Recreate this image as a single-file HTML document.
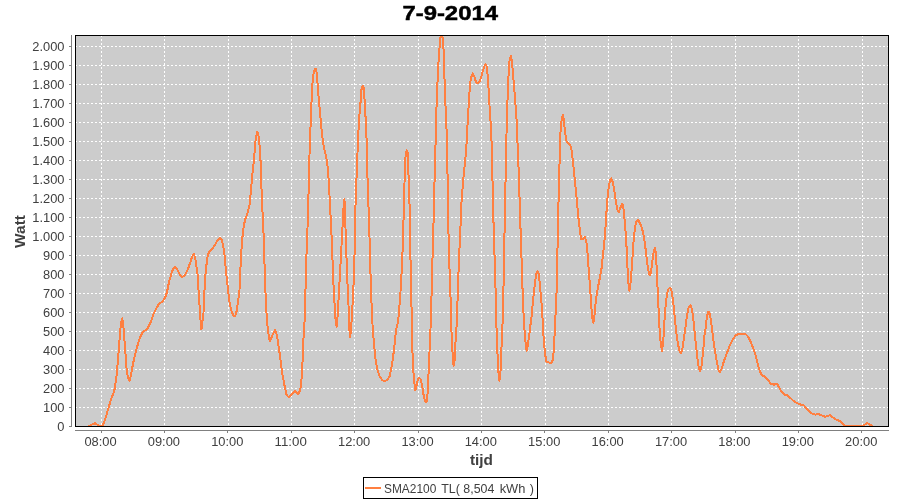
<!DOCTYPE html>
<html><head><meta charset="utf-8"><title>7-9-2014</title>
<style>
html,body{margin:0;padding:0;background:#fff;}
body{width:900px;height:500px;overflow:hidden;font-family:"Liberation Sans",sans-serif;}
svg{display:block}
text{font-family:"Liberation Sans",sans-serif;}
</style></head><body>
<svg width="900" height="500" viewBox="0 0 900 500">
<defs><filter id="g" x="0" y="0" width="900" height="500" filterUnits="userSpaceOnUse" color-interpolation-filters="sRGB"><feColorMatrix type="matrix" values="1 0 0 0 0 0 1 0 0 0 0 0 1 0 0 0 0 0 1 0"/></filter></defs>
<rect x="0" y="0" width="900" height="500" fill="#ffffff"/>
<rect x="75" y="35" width="814" height="392" fill="#cccccc" stroke="none"/>

<g stroke="#ffffff" stroke-width="1" stroke-dasharray="2,2" shape-rendering="crispEdges">
<line x1="75" y1="426.5" x2="888" y2="426.5"/>
<line x1="75" y1="407.5" x2="888" y2="407.5"/>
<line x1="75" y1="388.5" x2="888" y2="388.5"/>
<line x1="75" y1="369.5" x2="888" y2="369.5"/>
<line x1="75" y1="350.5" x2="888" y2="350.5"/>
<line x1="75" y1="331.5" x2="888" y2="331.5"/>
<line x1="75" y1="312.5" x2="888" y2="312.5"/>
<line x1="75" y1="293.5" x2="888" y2="293.5"/>
<line x1="75" y1="274.5" x2="888" y2="274.5"/>
<line x1="75" y1="255.5" x2="888" y2="255.5"/>
<line x1="75" y1="236.5" x2="888" y2="236.5"/>
<line x1="75" y1="217.5" x2="888" y2="217.5"/>
<line x1="75" y1="198.5" x2="888" y2="198.5"/>
<line x1="75" y1="179.5" x2="888" y2="179.5"/>
<line x1="75" y1="160.5" x2="888" y2="160.5"/>
<line x1="75" y1="141.5" x2="888" y2="141.5"/>
<line x1="75" y1="122.5" x2="888" y2="122.5"/>
<line x1="75" y1="103.5" x2="888" y2="103.5"/>
<line x1="75" y1="84.5" x2="888" y2="84.5"/>
<line x1="75" y1="65.5" x2="888" y2="65.5"/>
<line x1="75" y1="46.5" x2="888" y2="46.5"/>
<line x1="101.5" y1="35" x2="101.5" y2="426"/>
<line x1="164.5" y1="35" x2="164.5" y2="426"/>
<line x1="228.5" y1="35" x2="228.5" y2="426"/>
<line x1="291.5" y1="35" x2="291.5" y2="426"/>
<line x1="354.5" y1="35" x2="354.5" y2="426"/>
<line x1="418.5" y1="35" x2="418.5" y2="426"/>
<line x1="481.5" y1="35" x2="481.5" y2="426"/>
<line x1="545.5" y1="35" x2="545.5" y2="426"/>
<line x1="608.5" y1="35" x2="608.5" y2="426"/>
<line x1="671.5" y1="35" x2="671.5" y2="426"/>
<line x1="735.5" y1="35" x2="735.5" y2="426"/>
<line x1="798.5" y1="35" x2="798.5" y2="426"/>
<line x1="862.5" y1="35" x2="862.5" y2="426"/>
</g>
<polyline fill="none" stroke="#ff7f40" stroke-width="2" stroke-linejoin="round" stroke-linecap="round" shape-rendering="crispEdges" points="89,426 92,424.6 95,423.2 98,425 100,426 102.5,426 105,420 108.25,408.75 111.25,398.75 114.25,391.25 116.25,378.75 118,360 119.5,340 120.75,325 122.25,318.25 123.5,327.5 125,347.5 126.75,371.25 128.25,378.75 129.5,380.75 131,375 133,363.75 136.25,350 139.5,338.75 143,331.75 147.5,328.75 151.25,321.25 153,315 156,309 159,303.6 162,302 165,298 167,292 169,282 171.6,273 173.6,268 175.2,267 177,269 179.4,274 182.4,277 185,275 188,269 190.4,262 192.4,256 194,254 195.6,260 197.6,275 198.5,290 199.2,299 200,315 201,325 201.4,329.5 202.2,323 203.5,313 204.2,295 205.6,273 207.2,258 209,252 212,249 215,245 218,239.4 220,238 222,240 224,250 226,271 228,289 229,299 230.5,307 232,312.5 233.5,315.8 235,316 236.2,313.5 237.2,307 238.5,298 239.5,290 240.6,265 242,241 243.6,227 245,220 247,214.5 249.4,206 251,190 252.6,172 254,160 255,146 256,137 257.4,131.6 258.6,136 259.6,146 260.6,162 261.4,186 262.2,206 263,220 264,245 264.8,275 265.6,295 266.5,313 267.5,326 269,338 270,341.25 272.5,335 275,330 277,335 279.5,352.5 282.5,375 285,388 286.6,395 289,397.6 292,394 295,391 298.4,394.4 300.4,389 301.6,378 302.6,360 303.4,340 304.4,324 305,312 306,267 308,215 308.4,200 309,170 310,140 311,115 312,90 313,76 314.4,70 316,68.4 317,76 318,90 319.4,106 320.6,119 322,134 324,148 326.4,158 328,170 329,186 330,204 330.5,215 332,245 333,275 334.6,305 335.4,318 336.6,327 337.6,316 339,291 341,255 343,218 343.5,208 344.4,199 345,210 346,245 347.4,281 348.5,305 349,326 350.2,337 351.2,326 352.2,312 354,275 355,235 355.6,200 357,166 358,140 359,120 360.4,104 361.4,90 362.6,86 363.6,87 364.6,100 365.6,118 366.6,140 367.4,174 368.2,200 369,218 370,255 371,291 372,315 372.6,326 374,344 375.4,358 377.4,370 380,377 382.6,380.4 384.6,381 387,380 389.4,377 391,370 393,358 394.6,344 396,330 398,322 399,312 401,285 403,241 404,200 405,166 405.8,152 406.8,150.4 408,153 408.4,172 409.2,196 410,216 410.4,255 411.4,300 412,334 412.6,356 413.6,374 415,390 416,389 417.4,381 419,377.6 420.6,379 422,385 423.4,394 425,401 426.4,402.4 427.4,396 428.2,380 429,364 430,340 431,318 432,275 433.4,228 434.4,186 435.6,142 436.4,110 437.2,90 438.2,66 439.4,50 440.0,42 440.6,36.8 442.4,36.4 443.0,42 443.6,50 444.2,70 445,94 446,117 447,140 447.6,180 448.2,220 449,255 450.6,300 451.4,330 452.4,350 453.6,366 454.6,360 455.4,344 456.4,330 457.2,312 458,285 459.4,251 460.6,224 461.6,200 463.4,178 465,162 466.2,150 467,134 468.2,114 469.2,96 470.4,82 471.6,76 472.8,73.4 474.4,77 476,82 478,83.4 480,81 482,74 484,67 485.6,64.4 487,67 488,80 489,96 490,114 491.2,130 491.6,144 492.4,176 493.2,212 494.4,251 495.6,291 496.4,325 497.6,356 498.6,374 499.4,381 500.4,374 501.4,350 502.4,328 503.4,295 504,249 505,218 505.4,190 506,150 507,118 507.8,90 508.6,74 509.6,60 511,55.6 512,62 513.2,76 514.4,90 515.6,106 516.6,120 517.4,140 518.4,164 519.6,200 520.6,231 521.6,261 522.6,291 523.6,315 524.2,326 525.2,340 526.6,351 528,344 529.6,332 531.6,316 533,301 535,283 536.4,273 537.6,271 539,275 540.4,291 542,308 542.8,324 544,344 545.4,356 546.6,362 549,362.4 551,363 553,360 554,346 555,326 556,305 556.6,291 557.4,253 558.2,215 558.8,190 559.4,170 560,140 561,124 562,118 563,114.4 564,122 565,132 566.4,141 568.4,143 570.4,146 571.6,150 573,162 574.4,176 575.6,188 576.6,198 578,214 579.6,228 581,239 583,239 585,237 586.4,242 587.6,254 588.6,268 589.4,278 590.6,295 591.6,310 592.4,318 593.4,323 594.4,316 596,299 598,287 600,277 601.6,268 603,254 604.4,242 605.6,226 606.6,210 607.6,197 608.6,188 610,180 611.4,178.4 613,183 614.4,191 616,202 617.4,210 618.6,212.4 620,209 621.4,205 622.4,203.6 623.4,208 624.4,218 625.6,232 626.6,248 627.4,266 628.2,282 629.4,291 630.6,282 631.4,272 632,266 633,248 634,236 635.2,226 636.6,221 638,220 639.6,222.4 641.6,227 643.4,234 645,244 646.4,256 647.6,266 649,273 650,275.6 651,272 652,264 653,256 654,250 654.8,248 655.6,252 656.4,262 657.4,284 658.4,306 659.4,326 660.6,342 662,351 663.2,342 664.4,322 665.6,306 667,294 668.4,289 670,287.6 671.6,291 673,300 674.4,314 676,330 677.6,342 679.4,351 681,353 682.4,349 684,338 685.6,326 687.2,314 688.6,308 690.4,305 692,309 693.4,320 695,336 697,355 698.6,367 700,371 701.4,367 703,353 704.4,336 705.6,328 707,316 708.4,311.6 710,314 711.4,324 713,337 715,351 717,363 718.6,370 720,372 721.6,369 724,361 727,353 730,345 733,339 736,335 739,334 742,334.4 745,333.6 747.6,336 750,340.5 753,347.5 755.6,355 758,365 760,372 762,375 765,377 768,380 771,384 774,384.6 777,384 779,387 781.6,392 784,394.4 787,395 790,397.6 793,400.4 796,402.6 799,404 802,405 804,405.4 806,408 809,411.4 812,413.6 815,414.6 819,414.2 822,415.6 825,416.7 828,416.2 830,414.9 832.4,417 836,419.4 840,421.2 843,424 845,426 850,426 863,426 865,424.5 867,423 869,424 872,426"/>
<rect x="75.5" y="35.5" width="813" height="391" fill="none" stroke="#000" stroke-width="1" shape-rendering="crispEdges"/>
<g stroke="#808080" stroke-width="1" shape-rendering="crispEdges">
<line x1="71.5" y1="35" x2="71.5" y2="427"/>
<line x1="75" y1="430.5" x2="889" y2="430.5"/>
<line x1="69" y1="426.5" x2="72" y2="426.5"/>
<line x1="69" y1="407.5" x2="72" y2="407.5"/>
<line x1="69" y1="388.5" x2="72" y2="388.5"/>
<line x1="69" y1="369.5" x2="72" y2="369.5"/>
<line x1="69" y1="350.5" x2="72" y2="350.5"/>
<line x1="69" y1="331.5" x2="72" y2="331.5"/>
<line x1="69" y1="312.5" x2="72" y2="312.5"/>
<line x1="69" y1="293.5" x2="72" y2="293.5"/>
<line x1="69" y1="274.5" x2="72" y2="274.5"/>
<line x1="69" y1="255.5" x2="72" y2="255.5"/>
<line x1="69" y1="236.5" x2="72" y2="236.5"/>
<line x1="69" y1="217.5" x2="72" y2="217.5"/>
<line x1="69" y1="198.5" x2="72" y2="198.5"/>
<line x1="69" y1="179.5" x2="72" y2="179.5"/>
<line x1="69" y1="160.5" x2="72" y2="160.5"/>
<line x1="69" y1="141.5" x2="72" y2="141.5"/>
<line x1="69" y1="122.5" x2="72" y2="122.5"/>
<line x1="69" y1="103.5" x2="72" y2="103.5"/>
<line x1="69" y1="84.5" x2="72" y2="84.5"/>
<line x1="69" y1="65.5" x2="72" y2="65.5"/>
<line x1="69" y1="46.5" x2="72" y2="46.5"/>
<line x1="101.5" y1="430" x2="101.5" y2="433"/>
<line x1="164.5" y1="430" x2="164.5" y2="433"/>
<line x1="227.5" y1="430" x2="227.5" y2="433"/>
<line x1="291.5" y1="430" x2="291.5" y2="433"/>
<line x1="354.5" y1="430" x2="354.5" y2="433"/>
<line x1="418.5" y1="430" x2="418.5" y2="433"/>
<line x1="481.5" y1="430" x2="481.5" y2="433"/>
<line x1="544.5" y1="430" x2="544.5" y2="433"/>
<line x1="608.5" y1="430" x2="608.5" y2="433"/>
<line x1="671.5" y1="430" x2="671.5" y2="433"/>
<line x1="735.5" y1="430" x2="735.5" y2="433"/>
<line x1="798.5" y1="430" x2="798.5" y2="433"/>
<line x1="861.5" y1="430" x2="861.5" y2="433"/>
</g>
<g filter="url(#g)">
<text x="450.2" y="20.1" text-anchor="middle" font-size="21" font-weight="bold" fill="#000" stroke="#000" stroke-width="0.5" textLength="95.5" lengthAdjust="spacingAndGlyphs">7-9-2014</text>
<g font-size="12.5" fill="#404040">
<text x="64.5" y="430.8" text-anchor="end" textLength="7.16" lengthAdjust="spacingAndGlyphs">0</text>
<text x="64.5" y="411.8" text-anchor="end" textLength="21.48" lengthAdjust="spacingAndGlyphs">100</text>
<text x="64.5" y="392.8" text-anchor="end" textLength="21.48" lengthAdjust="spacingAndGlyphs">200</text>
<text x="64.5" y="373.9" text-anchor="end" textLength="21.48" lengthAdjust="spacingAndGlyphs">300</text>
<text x="64.5" y="354.9" text-anchor="end" textLength="21.48" lengthAdjust="spacingAndGlyphs">400</text>
<text x="64.5" y="335.9" text-anchor="end" textLength="21.48" lengthAdjust="spacingAndGlyphs">500</text>
<text x="64.5" y="316.9" text-anchor="end" textLength="21.48" lengthAdjust="spacingAndGlyphs">600</text>
<text x="64.5" y="297.9" text-anchor="end" textLength="21.48" lengthAdjust="spacingAndGlyphs">700</text>
<text x="64.5" y="279.0" text-anchor="end" textLength="21.48" lengthAdjust="spacingAndGlyphs">800</text>
<text x="64.5" y="260.0" text-anchor="end" textLength="21.48" lengthAdjust="spacingAndGlyphs">900</text>
<text x="64.5" y="241.0" text-anchor="end" textLength="32.21" lengthAdjust="spacingAndGlyphs">1.000</text>
<text x="64.5" y="222.0" text-anchor="end" textLength="32.21" lengthAdjust="spacingAndGlyphs">1.100</text>
<text x="64.5" y="203.0" text-anchor="end" textLength="32.21" lengthAdjust="spacingAndGlyphs">1.200</text>
<text x="64.5" y="184.1" text-anchor="end" textLength="32.21" lengthAdjust="spacingAndGlyphs">1.300</text>
<text x="64.5" y="165.1" text-anchor="end" textLength="32.21" lengthAdjust="spacingAndGlyphs">1.400</text>
<text x="64.5" y="146.1" text-anchor="end" textLength="32.21" lengthAdjust="spacingAndGlyphs">1.500</text>
<text x="64.5" y="127.1" text-anchor="end" textLength="32.21" lengthAdjust="spacingAndGlyphs">1.600</text>
<text x="64.5" y="108.1" text-anchor="end" textLength="32.21" lengthAdjust="spacingAndGlyphs">1.700</text>
<text x="64.5" y="89.2" text-anchor="end" textLength="32.21" lengthAdjust="spacingAndGlyphs">1.800</text>
<text x="64.5" y="70.2" text-anchor="end" textLength="32.21" lengthAdjust="spacingAndGlyphs">1.900</text>
<text x="64.5" y="51.2" text-anchor="end" textLength="32.21" lengthAdjust="spacingAndGlyphs">2.000</text>
<text x="100.5" y="446" text-anchor="middle" textLength="32.21" lengthAdjust="spacingAndGlyphs">08:00</text>
<text x="163.9" y="446" text-anchor="middle" textLength="32.21" lengthAdjust="spacingAndGlyphs">09:00</text>
<text x="227.3" y="446" text-anchor="middle" textLength="32.21" lengthAdjust="spacingAndGlyphs">10:00</text>
<text x="290.7" y="446" text-anchor="middle" textLength="32.21" lengthAdjust="spacingAndGlyphs">11:00</text>
<text x="354.1" y="446" text-anchor="middle" textLength="32.21" lengthAdjust="spacingAndGlyphs">12:00</text>
<text x="417.5" y="446" text-anchor="middle" textLength="32.21" lengthAdjust="spacingAndGlyphs">13:00</text>
<text x="480.8" y="446" text-anchor="middle" textLength="32.21" lengthAdjust="spacingAndGlyphs">14:00</text>
<text x="544.2" y="446" text-anchor="middle" textLength="32.21" lengthAdjust="spacingAndGlyphs">15:00</text>
<text x="607.6" y="446" text-anchor="middle" textLength="32.21" lengthAdjust="spacingAndGlyphs">16:00</text>
<text x="671.0" y="446" text-anchor="middle" textLength="32.21" lengthAdjust="spacingAndGlyphs">17:00</text>
<text x="734.4" y="446" text-anchor="middle" textLength="32.21" lengthAdjust="spacingAndGlyphs">18:00</text>
<text x="797.8" y="446" text-anchor="middle" textLength="32.21" lengthAdjust="spacingAndGlyphs">19:00</text>
<text x="861.2" y="446" text-anchor="middle" textLength="32.21" lengthAdjust="spacingAndGlyphs">20:00</text>
</g>
<text x="481.4" y="464.5" text-anchor="middle" font-size="14.5" font-weight="bold" fill="#404040" textLength="23" lengthAdjust="spacingAndGlyphs">tijd</text>
<text transform="translate(25,231.5) rotate(-90)" text-anchor="middle" font-size="14.5" font-weight="bold" fill="#404040" textLength="33" lengthAdjust="spacingAndGlyphs">Watt</text>
</g>
<rect x="363.5" y="477.5" width="174" height="21" fill="#fff" stroke="#000" stroke-width="1" shape-rendering="crispEdges"/>
<line x1="365" y1="488" x2="381" y2="488" stroke="#ff7f40" stroke-width="2"/>
<g filter="url(#g)" font-size="12.5" fill="#404040">
<text x="384.0" y="492.5" textLength="52.3" lengthAdjust="spacingAndGlyphs">SMA2100</text>
<text x="441.3" y="492.5" textLength="18.6" lengthAdjust="spacingAndGlyphs">TL(</text>
<text x="463.3" y="492.5" textLength="31.0" lengthAdjust="spacingAndGlyphs">8,504</text>
<text x="499.7" y="492.5" textLength="25.7" lengthAdjust="spacingAndGlyphs">kWh</text>
<text x="529.8" y="492.5" textLength="4.2" lengthAdjust="spacingAndGlyphs">)</text>
</g>
</svg></body></html>
